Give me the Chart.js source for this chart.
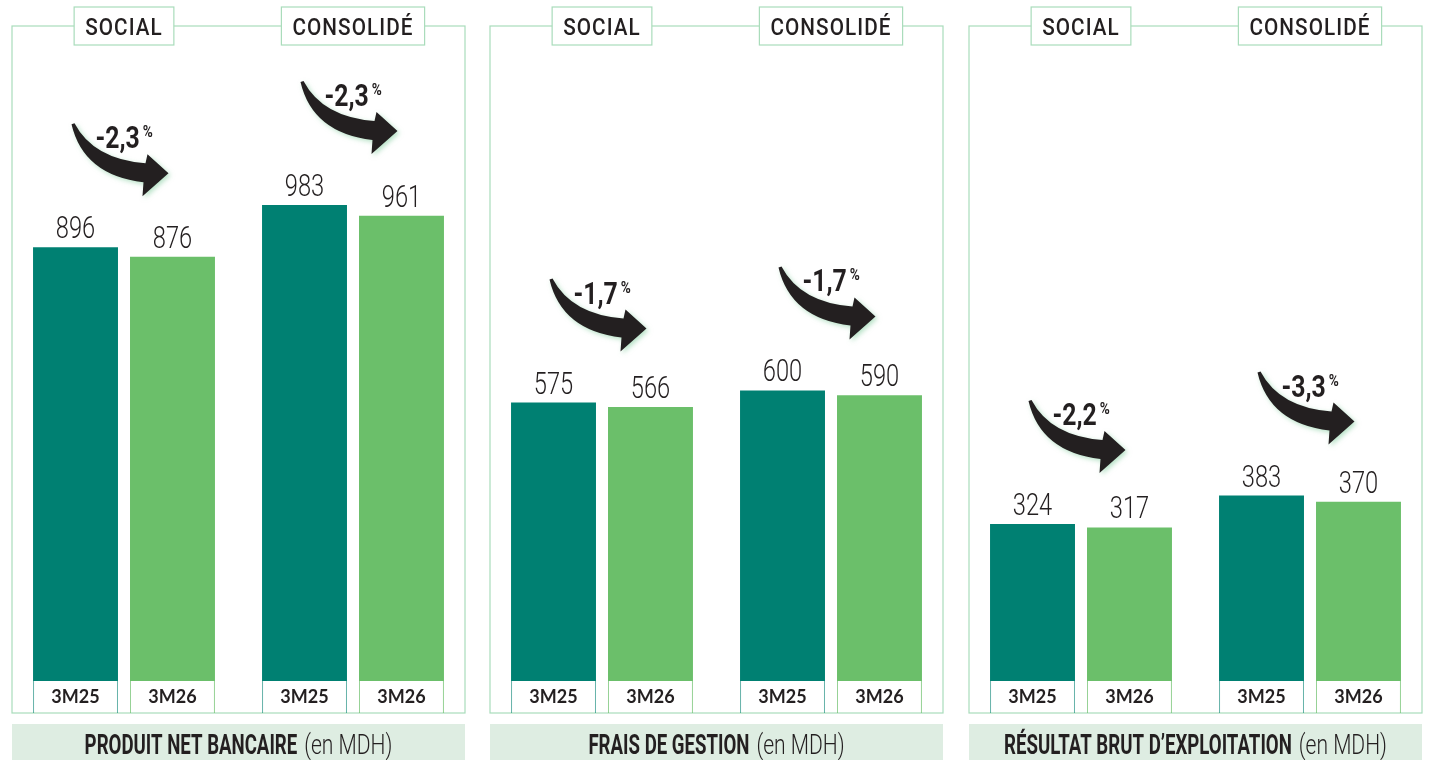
<!DOCTYPE html>
<html>
<head>
<meta charset="utf-8">
<script src="https://cdn.jsdelivr.net/npm/chart.js@4.4.0/dist/chart.umd.min.js"></script>
<style>
  body{margin:0;background:#fff;width:1435px;height:760px;overflow:hidden;position:relative;}
  .pannello{position:absolute;top:0;width:478px;height:760px;}
</style>
</head>
<body>
<div class="pannello" style="left:0px"><canvas id="graf1" width="478" height="760"></canvas></div>
<div class="pannello" style="left:478px"><canvas id="graf2" width="478" height="760"></canvas></div>
<div class="pannello" style="left:957px"><canvas id="graf3" width="478" height="760"></canvas></div>
<script>
// dati (in MDH)
var categorie = ['SOCIAL', 'CONSOLIDÉ'];
var periodi = ['3M25', '3M26'];
var titoli = ['PRODUIT NET BANCAIRE', 'FRAIS DE GESTION', 'RÉSULTAT BRUT D’EXPLOITATION'];
var unita = '(en MDH)';

var pnb_3m25 = [896, 983];
var pnb_3m26 = [876, 961];
var frais_3m25 = [575, 600];
var frais_3m26 = [566, 590];
var rbe_3m25 = [324, 383];
var rbe_3m26 = [317, 370];

// variazioni in percentuale (social, consolidé)
var var_pnb = ['-2,3', '-2,3'];
var var_frais = ['-1,7', '-1,7'];
var var_rbe = ['-2,2', '-3,3'];

var verde_scuro = '#008072';
var verde_chiaro = '#6bbf6a';
var bordo = '#a9dcbb';
var testo = '#231f20';

// scrive un testo compresso in orizzontale
function scritta(c, t, x, y, font, sx, align, colore){
  c.save();
  c.font = font;
  c.fillStyle = colore || testo;
  c.textAlign = align || 'center';
  c.textBaseline = 'alphabetic';
  c.translate(x, y);
  c.scale(sx, 1);
  c.fillText(t, 0, 0);
  c.restore();
}

function larghezza(c, t, font, sx){
  c.save();
  c.font = font;
  var w = c.measureText(t).width * sx;
  c.restore();
  return w;
}

// freccia curva nera
function freccia(c, x0, y0, k){
  c.save();
  c.translate(x0, y0);
  c.scale(k, 1);
  c.beginPath();
  c.moveTo(1, 0);
  c.quadraticCurveTo(20, 36, 72, 40);
  c.lineTo(74, 31);
  c.lineTo(95, 50);
  c.lineTo(69, 73);
  c.lineTo(70, 59);
  c.quadraticCurveTo(10, 52, -2, 1);
  c.closePath();
  c.shadowColor = 'rgba(120,200,150,0.55)';
  c.shadowBlur = 5;
  c.shadowOffsetX = 2;
  c.shadowOffsetY = 2;
  c.fillStyle = testo;
  c.fill();
  c.restore();
}

function decoro(titolo, variazioni){
  return {
    id: 'decoro',
    beforeDatasetsDraw: function(chart){
      var c = chart.ctx;
      var a = chart.chartArea;
      var x0 = a.left + 2.5, x1 = a.right - 2.5;

      // cornice del pannello
      c.save();
      c.strokeStyle = bordo;
      c.lineWidth = 1.2;
      c.strokeRect(x0, 26, x1 - x0, a.bottom + 32 - 26);
      // fascia del titolo
      c.fillStyle = '#deede2';
      c.fillRect(x0, 724, x1 - x0, 36);
      c.restore();

      // etichette SOCIAL / CONSOLIDÉ sul bordo
      var fh = '500 23px Roboto';
      for (var i = 0; i < categorie.length; i++) {
        var xc = chart.scales.x.getPixelForValue(i);
        c.save();
        c.font = fh;
        c.letterSpacing = '1.2px';
        var w = c.measureText(categorie[i]).width * 0.9;
        c.fillStyle = '#fff';
        c.strokeStyle = bordo;
        c.lineWidth = 1.2;
        c.fillRect(xc - w / 2 - 11, 7, w + 22, 38);
        c.strokeRect(xc - w / 2 - 11, 7, w + 22, 38);
        c.translate(xc, 35);
        c.scale(0.9, 1);
        c.fillStyle = testo;
        c.textAlign = 'center';
        c.fillText(categorie[i], 0, 0);
        c.restore();
      }

      // titolo in basso
      var fb = '700 27px Roboto', fl = '300 27px Roboto';
      var wb = larghezza(c, titolo, fb, 0.69);
      var wl = larghezza(c, unita, fl, 0.78);
      var xs = (x0 + x1) / 2 - (wb + 7 + wl) / 2;
      scritta(c, titolo, xs, 754, fb, 0.69, 'left');
      scritta(c, unita, xs + wb + 7, 754, fl, 0.78, 'left');
    },
    afterDatasetsDraw: function(chart){
      var c = chart.ctx;
      var a = chart.chartArea;
      var m0 = chart.getDatasetMeta(0);
      var m1 = chart.getDatasetMeta(1);

      [m0, m1].forEach(function(meta, d){
        meta.data.forEach(function(bar, i){
          var l = bar.x - bar.width / 2, r = bar.x + bar.width / 2;
          // cella sotto la barra
          c.save();
          c.strokeStyle = d == 0 ? 'rgba(0,128,114,0.6)' : 'rgba(107,191,106,0.7)';
          c.lineWidth = 1;
          c.beginPath();
          c.moveTo(l + 0.5, a.bottom); c.lineTo(l + 0.5, a.bottom + 32);
          c.moveTo(r - 0.5, a.bottom); c.lineTo(r - 0.5, a.bottom + 32);
          c.stroke();
          c.restore();
          scritta(c, periodi[d], bar.x, a.bottom + 22, '700 18px Lato', 1, 'center');
          // valore sopra la barra
          scritta(c, String(chart.data.datasets[d].data[i]), bar.x, bar.y - 9, '300 32px Roboto', 0.74, 'center');
        });
      });

      // frecce con la variazione
      for (var i = 0; i < variazioni.length; i++) {
        var b0 = m0.data[i], b1 = m1.data[i];
        var xa = b0.x - 2, ya = b0.y - 124;
        freccia(c, xa, ya, (b1.x - b0.x) / 97);
        var fp = '700 31px Roboto';
        scritta(c, variazioni[i], xa + 22, ya + 25, fp, 0.8, 'left');
        var wp = larghezza(c, variazioni[i], fp, 0.8);
        scritta(c, '%', xa + 22 + wp + 3, ya + 14, '700 16px Roboto', 0.85, 'left');
      }
    }
  };
}

function creaPannello(id, titolo, val25, val26, variazioni){
  var ctx = document.getElementById(id).getContext('2d');
  return new Chart(ctx, {
    type: 'bar',
    data: {
      labels: categorie,
      datasets: [
        {label: periodi[0], data: val25, backgroundColor: verde_scuro},
        {label: periodi[1], data: val26, backgroundColor: verde_chiaro}
      ]
    },
    options: {
      responsive: false,
      animation: false,
      layout: {padding: {top: 51.5, bottom: 79, left: 9.5, right: 10.5}},
      datasets: {bar: {categoryPercentage: 0.847, barPercentage: 0.876}},
      scales: {
        x: {display: false},
        y: {display: false, min: 0, max: 1300}
      },
      plugins: {legend: {display: false}, tooltip: {enabled: false}}
    },
    plugins: [decoro(titolo, variazioni)]
  });
}

creaPannello('graf1', titoli[0], pnb_3m25, pnb_3m26, var_pnb);
creaPannello('graf2', titoli[1], frais_3m25, frais_3m26, var_frais);
creaPannello('graf3', titoli[2], rbe_3m25, rbe_3m26, var_rbe);
</script>
</body>
</html>
